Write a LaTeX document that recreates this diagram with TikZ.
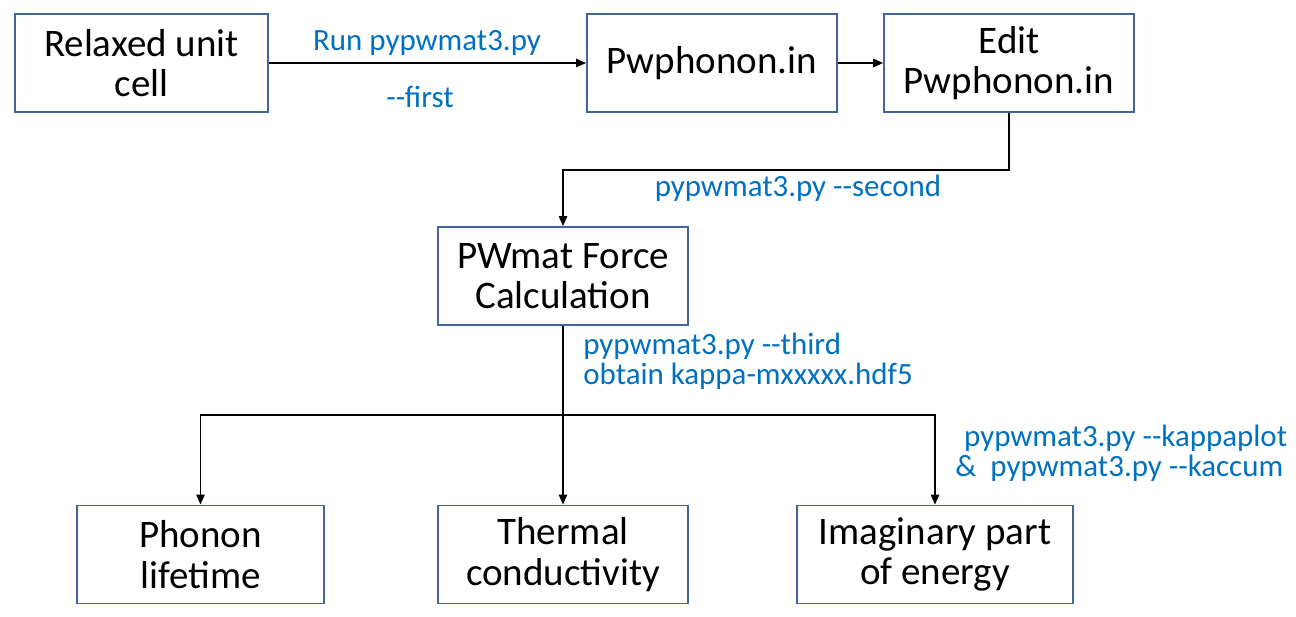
\documentclass[tikz,border=0pt]{standalone}
\usepackage{fontspec}
\setmainfont{Carlito}
\usetikzlibrary{arrows.meta}
\definecolor{boxline}{RGB}{65,100,158}
\definecolor{cmdblue}{RGB}{0,112,192}
\tikzset{
	box/.style={draw=boxline,line width=1.1pt,minimum width=5cm,minimum height=1.96cm,align=center,inner sep=0pt,font=\fontsize{22.2}{23}\selectfont},
	cmd/.style={text=cmdblue,inner sep=0pt,font=\fontsize{17.6}{17}\selectfont},
	arr/.style={line width=0.7pt,-{Triangle[length=0.2cm,width=0.17cm]}},
	wire/.style={line width=0.7pt}
}
\begin{document}
\begin{tikzpicture}[x=0.02cm,y=-0.02cm]
	\useasboundingbox (0,0) rectangle (1296,616);
	
	% top row
	\node[box,minimum width=5.06cm] (relax) at (141.5,63) {Relaxed unit\\cell};
	\node[box] (pw) at (712,63) {Pwphonon.in};
	\node[box] (edit) at (1009,63) {Edit\\Pwphonon.in};
	
	\draw[arr] (relax) -- (pw);
	\draw[arr] (pw) -- (edit);
	
	\node[cmd] (run) at (427,43) {Run pypwmat3.py};
	\node[cmd] (first) at (420,97) {-{}-first};
	
	% force calculation
	\node[box] (force) at (563,276) {PWmat Force\\Calculation};
	
	\coordinate (bend) at (1009,170);
	\draw[arr] (edit.south) -- (bend) -| (force.north);
	\node[cmd] (second) at (798,188) {pypwmat3.py -{}-second};
	
	% results
	\node[box,minimum width=4.94cm] (life) at (200.5,554.5) {Phonon\\lifetime};
	\node[box] (therm) at (563,554.5) {Thermal\\conductivity};
	\node[box,minimum width=5.52cm] (imag) at (935,554.5) {Imaginary part\\of energy};
	
	\coordinate (split) at (563,415);
	\draw[wire] (force.south) -- (split);
	\draw[arr] (split) -- (therm.north);
	\draw[arr] (split) -| (life.north);
	\draw[arr] (split) -| (imag.north);
	
	\node[cmd,anchor=west,align=left] (third) at (583,361) {pypwmat3.py -{}-third\\obtain kappa-mxxxxx.hdf5};
	\node[cmd,anchor=west,align=left] (kappa) at (955,453) {\hspace{5pt}pypwmat3.py -{}-kappaplot\\\&\ \ pypwmat3.py -{}-kaccum};
\end{tikzpicture}
\end{document}
